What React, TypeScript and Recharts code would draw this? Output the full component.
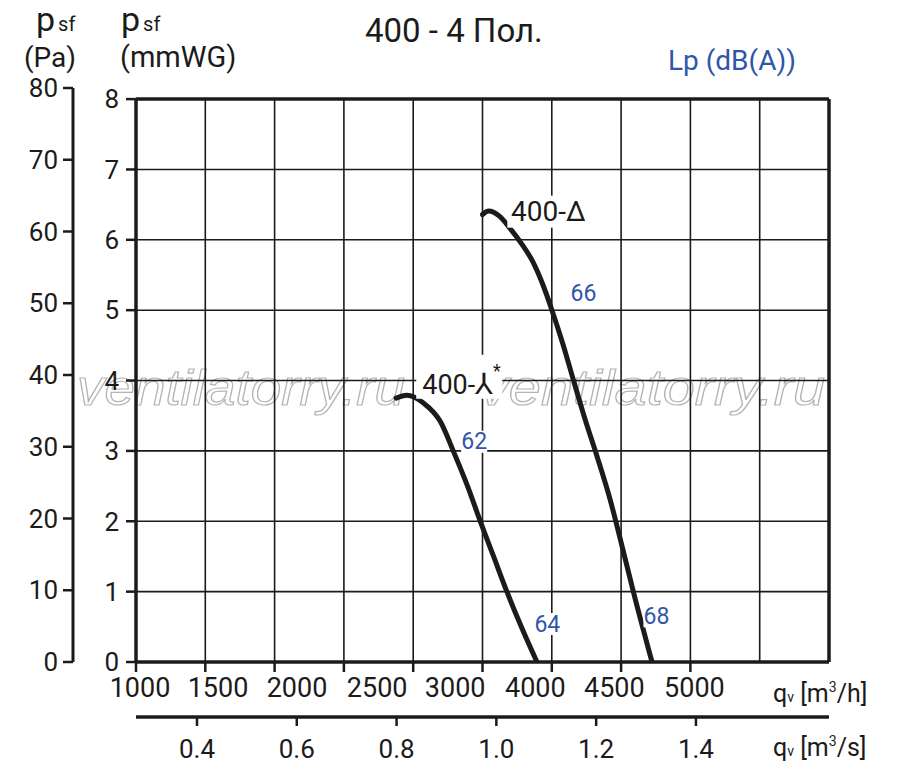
import {
  ComposedChart,
  Line,
  XAxis,
  YAxis,
  ReferenceLine,
  ReferenceDot,
} from "recharts";

const FONT = "Roboto, sans-serif";
const INK = "#1b1b1b";
const BLUE = "#2f56a8";

// axes
const QH_TICKS = [1000, 1500, 2000, 2500, 3000, 3500, 4000, 4500, 5000];
const QH_GRID = [1500, 2000, 2500, 3000, 3500, 4000, 4500, 5000, 5500];
const QH_LABEL_AT = [1029, 1592, 2162, 2740, 3303, 3881, 4451, 5029];
const QH_LABELS = ["1000", "1500", "2000", "2500", "3000", "4000", "4500", "5000"];
const QS_TICKS = [0.4, 0.6, 0.8, 1.0, 1.2, 1.4];
const MM_TICKS = [0, 1, 2, 3, 4, 5, 6, 7, 8];
const MM_GRID = [1, 2, 3, 4, 5, 6, 7];
const PA_TICKS = [0, 10, 20, 30, 40, 50, 60, 70, 80];

// curves, q in m3/h, p in mmWG
const STAR_Q = [2877, 2954, 3074, 3195, 3291, 3388, 3484, 3580, 3676, 3780, 3893];
const STAR_P = [3.75, 3.79, 3.68, 3.42, 2.99, 2.52, 2.0, 1.5, 1.0, 0.5, 0.0];
const DELTA_Q = [3500, 3544, 3620, 3700, 3780, 3860, 3940, 4001, 4080, 4157, 4240, 4330, 4422, 4495, 4591, 4723];
const DELTA_P = [6.36, 6.41, 6.34, 6.16, 5.95, 5.7, 5.34, 5.0, 4.52, 4.0, 3.45, 2.9, 2.3, 1.74, 0.98, 0.0];

// sound level notes (dB(A)) placed next to the curves
const DB_TEXT = ["66", "62", "64", "68"];
const DB_Q = [4228, 3440, 3968, 4755];
const DB_P = [5.24, 3.13, 0.54, 0.65];

const PA_PER_MM = 9.80665;
const MM_MAX = 80 / PA_PER_MM;

const toRows = (qs: number[], ps: number[]) =>
  qs.map((q, i) => ({ q, p: ps[i], qs: q / 3600, pa: ps[i] * PA_PER_MM }));

const starRows = toRows(STAR_Q, STAR_P);
const deltaRows = toRows(DELTA_Q, DELTA_P);

function NoteLabel(props: any) {
  const { viewBox, text, size, color, w, h } = props;
  const cx = viewBox.x + (viewBox.width || 0) / 2;
  const cy = viewBox.y + (viewBox.height || 0) / 2;
  return (
    <g>
      <rect x={cx - w / 2} y={cy - h / 2} width={w} height={h} fill="#fff" />
      <text
        x={cx}
        y={cy}
        textAnchor="middle"
        dominantBaseline="central"
        fontSize={size}
        fill={color}
        fontFamily={FONT}
      >
        {text}
      </text>
    </g>
  );
}

function StarLabel(props: any) {
  const { viewBox } = props;
  const cx = viewBox.x + (viewBox.width || 0) / 2;
  const cy = viewBox.y + (viewBox.height || 0) / 2;
  return (
    <g>
      <rect x={cx - 42} y={cy - 30} width={86} height={44} fill="#fff" />
      <text x={cx - 36} y={cy + 9} fontSize={27} fill={INK} fontFamily={FONT}>
        400-
        <tspan fontFamily="DejaVu Sans" fontSize={29}>⅄</tspan>
        <tspan fontSize={18} dy={-17}>*</tspan>
      </text>
    </g>
  );
}

const hiddenLine = {
  dot: false,
  activeDot: false,
  stroke: "none",
  legendType: "none" as const,
  isAnimationActive: false,
};

export default function App() {
  const txt = { fontFamily: FONT, fill: INK };
  return (
    <div style={{ position: "absolute", left: 0, top: 0, background: "#fff" }}>
      <ComposedChart
        width={900}
        height={775}
        margin={{ top: 88, right: 71, bottom: 8, left: 10 }}
      >
        {/* data axis, drawn through the tick-mark axis below */}
        <XAxis
          xAxisId="qh"
          type="number"
          dataKey="q"
          domain={[1000, 6000]}
          allowDataOverflow
          height={0}
          hide
        />
        <XAxis
          xAxisId="qhMarks"
          type="number"
          dataKey="q"
          domain={[1000, 6000]}
          ticks={QH_TICKS}
          tickFormatter={() => ""}
          axisLine={{ stroke: INK, strokeWidth: 3.5 }}
          tickLine={{ stroke: INK, strokeWidth: 2.5 }}
          tickSize={10}
          tickMargin={2}
          height={16}
          interval={0}
          allowDataOverflow
          tick={{ fontSize: 10, fill: INK, fontFamily: FONT }}
        />
        <XAxis
          xAxisId="qhText"
          type="number"
          dataKey="q"
          domain={[1000, 6000]}
          ticks={QH_LABEL_AT}
          tickFormatter={(_v: number, i: number) => QH_LABELS[i]}
          axisLine={false}
          tickLine={false}
          tickSize={0}
          tickMargin={0}
          height={39}
          interval={0}
          allowDataOverflow
          tick={{ fontSize: 27, fill: INK, fontFamily: FONT }}
        />
        <XAxis
          xAxisId="qs"
          type="number"
          dataKey="qs"
          domain={[1000 / 3600, 6000 / 3600]}
          ticks={QS_TICKS}
          tickFormatter={(v: number) => v.toFixed(1)}
          axisLine={{ stroke: INK, strokeWidth: 3.5 }}
          tickLine={{ stroke: INK, strokeWidth: 2.5 }}
          tickSize={9}
          tickMargin={14}
          height={50}
          interval={0}
          allowDataOverflow
          tick={{ fontSize: 26, fill: INK, fontFamily: FONT }}
        />
        <YAxis
          yAxisId="mm"
          type="number"
          domain={[0, MM_MAX]}
          ticks={MM_TICKS}
          allowDataOverflow
          axisLine={false}
          tickLine={{ stroke: INK, strokeWidth: 2.5 }}
          tickSize={10}
          tickMargin={7}
          width={63}
          interval={0}
          tick={{ fontSize: 26, fill: INK, fontFamily: FONT }}
        />
        <YAxis
          yAxisId="pa"
          type="number"
          dataKey="pa"
          domain={[0, 80]}
          ticks={PA_TICKS}
          allowDataOverflow
          axisLine={{ stroke: INK, strokeWidth: 3 }}
          tickLine={{ stroke: INK, strokeWidth: 2.5 }}
          tickSize={10}
          tickMargin={5}
          width={63}
          interval={0}
          tick={{ fontSize: 26, fill: INK, fontFamily: FONT }}
        />

        {/* grid */}
        {QH_GRID.map((q) => (
          <ReferenceLine
            key={"v" + q}
            xAxisId="qh"
            yAxisId="mm"
            segment={[{ x: q, y: 0 }, { x: q, y: 8 }]}
            stroke={INK}
            strokeWidth={1.6}
          />
        ))}
        {MM_GRID.map((p) => (
          <ReferenceLine
            key={"h" + p}
            xAxisId="qh"
            yAxisId="mm"
            y={p}
            stroke={INK}
            strokeWidth={1.6}
          />
        ))}
        <ReferenceLine
          xAxisId="qh"
          yAxisId="mm"
          segment={[{ x: 1000, y: 8 }, { x: 6000, y: 8 }]}
          stroke={INK}
          strokeWidth={3.5}
        />
        <ReferenceLine
          xAxisId="qh"
          yAxisId="mm"
          segment={[{ x: 1000, y: 0 }, { x: 1000, y: 8 }]}
          stroke={INK}
          strokeWidth={3.5}
        />
        <ReferenceLine
          xAxisId="qh"
          yAxisId="mm"
          segment={[{ x: 6000, y: 0 }, { x: 6000, y: 8 }]}
          stroke={INK}
          strokeWidth={3.5}
        />

        {/* watermark */}
        <g fontFamily="'Liberation Sans', sans-serif" fontStyle="italic" fontSize={50} fill="none" stroke="#b4b4b4" strokeWidth={1.2}>
          <text x={77} y={405} textLength={328} lengthAdjust="spacingAndGlyphs">ventilatorry.ru</text>
          <text x={480} y={405} textLength={345} lengthAdjust="spacingAndGlyphs">ventilatorry.ru</text>
        </g>

        {/* helper series so the secondary axes get their scales */}
        <Line xAxisId="qhMarks" yAxisId="mm" data={deltaRows} dataKey="p" {...hiddenLine} />
        <Line xAxisId="qhText" yAxisId="mm" data={deltaRows} dataKey="p" {...hiddenLine} />
        <Line xAxisId="qs" yAxisId="pa" data={deltaRows} dataKey="pa" {...hiddenLine} />

        <Line
          xAxisId="qh"
          yAxisId="mm"
          data={starRows}
          dataKey="p"
          type="monotone"
          stroke={INK}
          strokeWidth={5}
          strokeLinecap="round"
          dot={false}
          activeDot={false}
          isAnimationActive={false}
        />
        <Line
          xAxisId="qh"
          yAxisId="mm"
          data={deltaRows}
          dataKey="p"
          type="monotone"
          stroke={INK}
          strokeWidth={5}
          strokeLinecap="round"
          dot={false}
          activeDot={false}
          isAnimationActive={false}
        />

        {/* curve names */}
        <ReferenceDot
          xAxisId="qh"
          yAxisId="mm"
          x={3975}
          y={6.4}
          r={0.5}
          fill="none"
          stroke="none"
          label={(p: any) => (
            <NoteLabel {...p} text="400-Δ" size={28} color={INK} w={82} h={32} />
          )}
        />
        <ReferenceDot
          xAxisId="qh"
          yAxisId="mm"
          x={3325}
          y={3.94}
          r={0.5}
          fill="none"
          stroke="none"
          label={(p: any) => <StarLabel {...p} />}
        />
        {DB_TEXT.map((t, i) => (
          <ReferenceDot
            key={t}
            xAxisId="qh"
            yAxisId="mm"
            x={DB_Q[i]}
            y={DB_P[i]}
            r={0.5}
            fill="none"
            stroke="none"
            label={(p: any) => (
              <NoteLabel {...p} text={t} size={23} color={BLUE} w={26} h={22} />
            )}
          />
        ))}

        {/* titles */}
        <text x={365} y={42} fontSize={33} {...txt}>400 - 4 Пол.</text>
        <text x={668} y={70} fontSize={28} fontFamily={FONT} fill={BLUE}>Lp (dB(A))</text>

        <text x={36} y={31} fontSize={34} {...txt}>
          p<tspan fontSize={20} dx={3}>sf</tspan>
        </text>
        <text x={24} y={67} fontSize={28} {...txt}>(Pa)</text>
        <text x={121} y={31} fontSize={34} {...txt}>
          p<tspan fontSize={20} dx={3}>sf</tspan>
        </text>
        <text x={120} y={67} fontSize={29} {...txt}>(mmWG)</text>

        <text x={773} y={702} fontSize={25} {...txt}>
          q<tspan fontSize={14}>v</tspan> [m<tspan fontSize={14} dy={-10}>3</tspan>
          <tspan dy={10}>/h]</tspan>
        </text>
        <text x={773} y={756} fontSize={25} {...txt}>
          q<tspan fontSize={14}>v</tspan> [m<tspan fontSize={14} dy={-10}>3</tspan>
          <tspan dy={10}>/s]</tspan>
        </text>
      </ComposedChart>
    </div>
  );
}
